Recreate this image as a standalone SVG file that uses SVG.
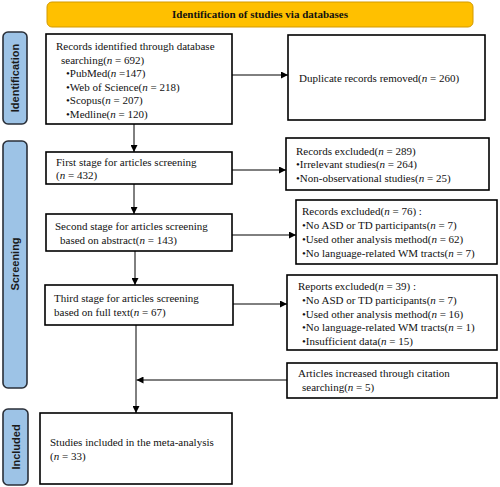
<svg xmlns="http://www.w3.org/2000/svg" width="500" height="487" viewBox="0 0 500 487">
<defs>
<marker id="ah" viewBox="0 0 10 10" refX="10" refY="5" markerWidth="7" markerHeight="7" markerUnits="userSpaceOnUse" orient="auto"><path d="M0,0 L10,5 L0,10 z" fill="#000"/></marker>
</defs>
<style>
.box{fill:#fff;stroke:#000;stroke-width:1.6}
.side{fill:#9DC3E6;stroke:#2a2f38;stroke-width:1.6}
.t{font-family:"Liberation Serif","Times New Roman",serif;font-size:11px;fill:#111}
.s{font-family:"Liberation Sans",Arial,sans-serif;font-size:11px;font-weight:bold;fill:#1a1a1a}
.c{fill:none;stroke:#000;stroke-width:1}
</style>
<rect width="500" height="487" fill="#fff"/>
<g id="banner">
<rect x="47" y="2" width="426" height="25" rx="5" fill="#FFC000" stroke="#D39A00" stroke-width="1"/>
<text x="260" y="18" text-anchor="middle" class="t" font-weight="bold">Identification of studies via databases</text>
</g>
<g id="side-identification">
<rect x="3" y="32" width="24" height="92" rx="5" class="side"/>
<text class="s" transform="translate(19,78) rotate(-90)" text-anchor="middle">Identification</text>
</g>
<g id="side-screening">
<rect x="3" y="141" width="24" height="247" rx="5" class="side"/>
<text class="s" transform="translate(19,264) rotate(-90)" text-anchor="middle">Screening</text>
</g>
<g id="side-included">
<rect x="3" y="409" width="25" height="76" rx="5" class="side"/>
<text class="s" transform="translate(19.5,447) rotate(-90)" text-anchor="middle">Included</text>
</g>
<g id="records-identified">
<rect x="46" y="34" width="186" height="90" class="box"/>
<text class="t" x="56" y="50">Records identified through database</text>
<text class="t" x="61" y="64">searching(<tspan font-style="italic">n</tspan> = 692)</text>
<text class="t" x="66" y="77">•PubMed(<tspan font-style="italic">n</tspan> =147)</text>
<text class="t" x="66" y="91">•Web of Science(<tspan font-style="italic">n</tspan> = 218)</text>
<text class="t" x="66" y="104">•Scopus(<tspan font-style="italic">n</tspan> = 207)</text>
<text class="t" x="66" y="118">•Medline(<tspan font-style="italic">n</tspan> = 120)</text>
</g>
<g id="duplicates">
<rect x="288" y="35" width="197" height="85" class="box"/>
<text class="t" x="299" y="82">Duplicate records removed(<tspan font-style="italic">n</tspan> = 260)</text>
</g>
<g id="first-stage">
<rect x="46" y="152" width="186" height="32" class="box"/>
<text class="t" x="56" y="166">First stage for articles screening</text>
<text class="t" x="56" y="179">(<tspan font-style="italic">n</tspan> = 432)</text>
</g>
<g id="excluded-289">
<rect x="286" y="138" width="203" height="52" class="box"/>
<text class="t" x="296" y="155">Records excluded(<tspan font-style="italic">n</tspan> = 289)</text>
<text class="t" x="296" y="168">•Irrelevant studies(<tspan font-style="italic">n</tspan> = 264)</text>
<text class="t" x="296" y="182">•Non-observational studies(<tspan font-style="italic">n</tspan> = 25)</text>
</g>
<g id="second-stage">
<rect x="46" y="214" width="186" height="37" class="box"/>
<text class="t" x="55" y="230">Second stage for articles screening</text>
<text class="t" x="60" y="244">based on abstract(<tspan font-style="italic">n</tspan> = 143)</text>
</g>
<g id="excluded-76">
<rect x="296" y="200" width="201" height="64" class="box"/>
<text class="t" x="302" y="215">Records excluded(<tspan font-style="italic">n</tspan> = 76) :</text>
<text class="t" x="302" y="229">•No ASD or TD participants(<tspan font-style="italic">n</tspan> = 7)</text>
<text class="t" x="302" y="243">•Used other analysis method(<tspan font-style="italic">n</tspan> = 62)</text>
<text class="t" x="302" y="257">•No language-related WM tracts(<tspan font-style="italic">n</tspan> = 7)</text>
</g>
<g id="third-stage">
<rect x="45" y="285" width="188" height="40" class="box"/>
<text class="t" x="54" y="302">Third stage for articles screening</text>
<text class="t" x="54" y="316">based on full text(<tspan font-style="italic">n</tspan> = 67)</text>
</g>
<g id="excluded-39">
<rect x="287" y="275" width="210" height="75" class="box"/>
<text class="t" x="298" y="290">Reports excluded(<tspan font-style="italic">n</tspan> = 39) :</text>
<text class="t" x="302" y="304">•No ASD or TD participants(<tspan font-style="italic">n</tspan> = 7)</text>
<text class="t" x="302" y="318">•Used other analysis method(<tspan font-style="italic">n</tspan> = 16)</text>
<text class="t" x="302" y="331">•No language-related WM tracts(<tspan font-style="italic">n</tspan> = 1)</text>
<text class="t" x="302" y="345">•Insufficient data(<tspan font-style="italic">n</tspan> = 15)</text>
</g>
<g id="citation">
<rect x="287" y="363" width="210" height="35" class="box"/>
<text class="t" x="298" y="377">Articles increased through citation</text>
<text class="t" x="302" y="391">searching(<tspan font-style="italic">n</tspan> = 5)</text>
</g>
<g id="included">
<rect x="40" y="413" width="192" height="71" class="box"/>
<text class="t" x="50" y="446">Studies included in the meta-analysis</text>
<text class="t" x="50" y="460">(<tspan font-style="italic">n</tspan> = 33)</text>
</g>
<g id="connectors">
<line x1="232" y1="75" x2="288" y2="75" class="c" marker-end="url(#ah)"/>
<line x1="134" y1="124" x2="134" y2="152" class="c" marker-end="url(#ah)"/>
<line x1="232" y1="170" x2="286" y2="170" class="c" marker-end="url(#ah)"/>
<line x1="134" y1="184" x2="134" y2="214" class="c" marker-end="url(#ah)"/>
<line x1="232" y1="235" x2="296" y2="235" class="c" marker-end="url(#ah)"/>
<line x1="135" y1="251" x2="135" y2="285" class="c" marker-end="url(#ah)"/>
<line x1="233" y1="304" x2="287" y2="304" class="c" marker-end="url(#ah)"/>
<line x1="136" y1="325" x2="136" y2="413" class="c" marker-end="url(#ah)"/>
<line x1="287" y1="380" x2="136.5" y2="380" class="c" marker-end="url(#ah)"/>
</g>
</svg>
